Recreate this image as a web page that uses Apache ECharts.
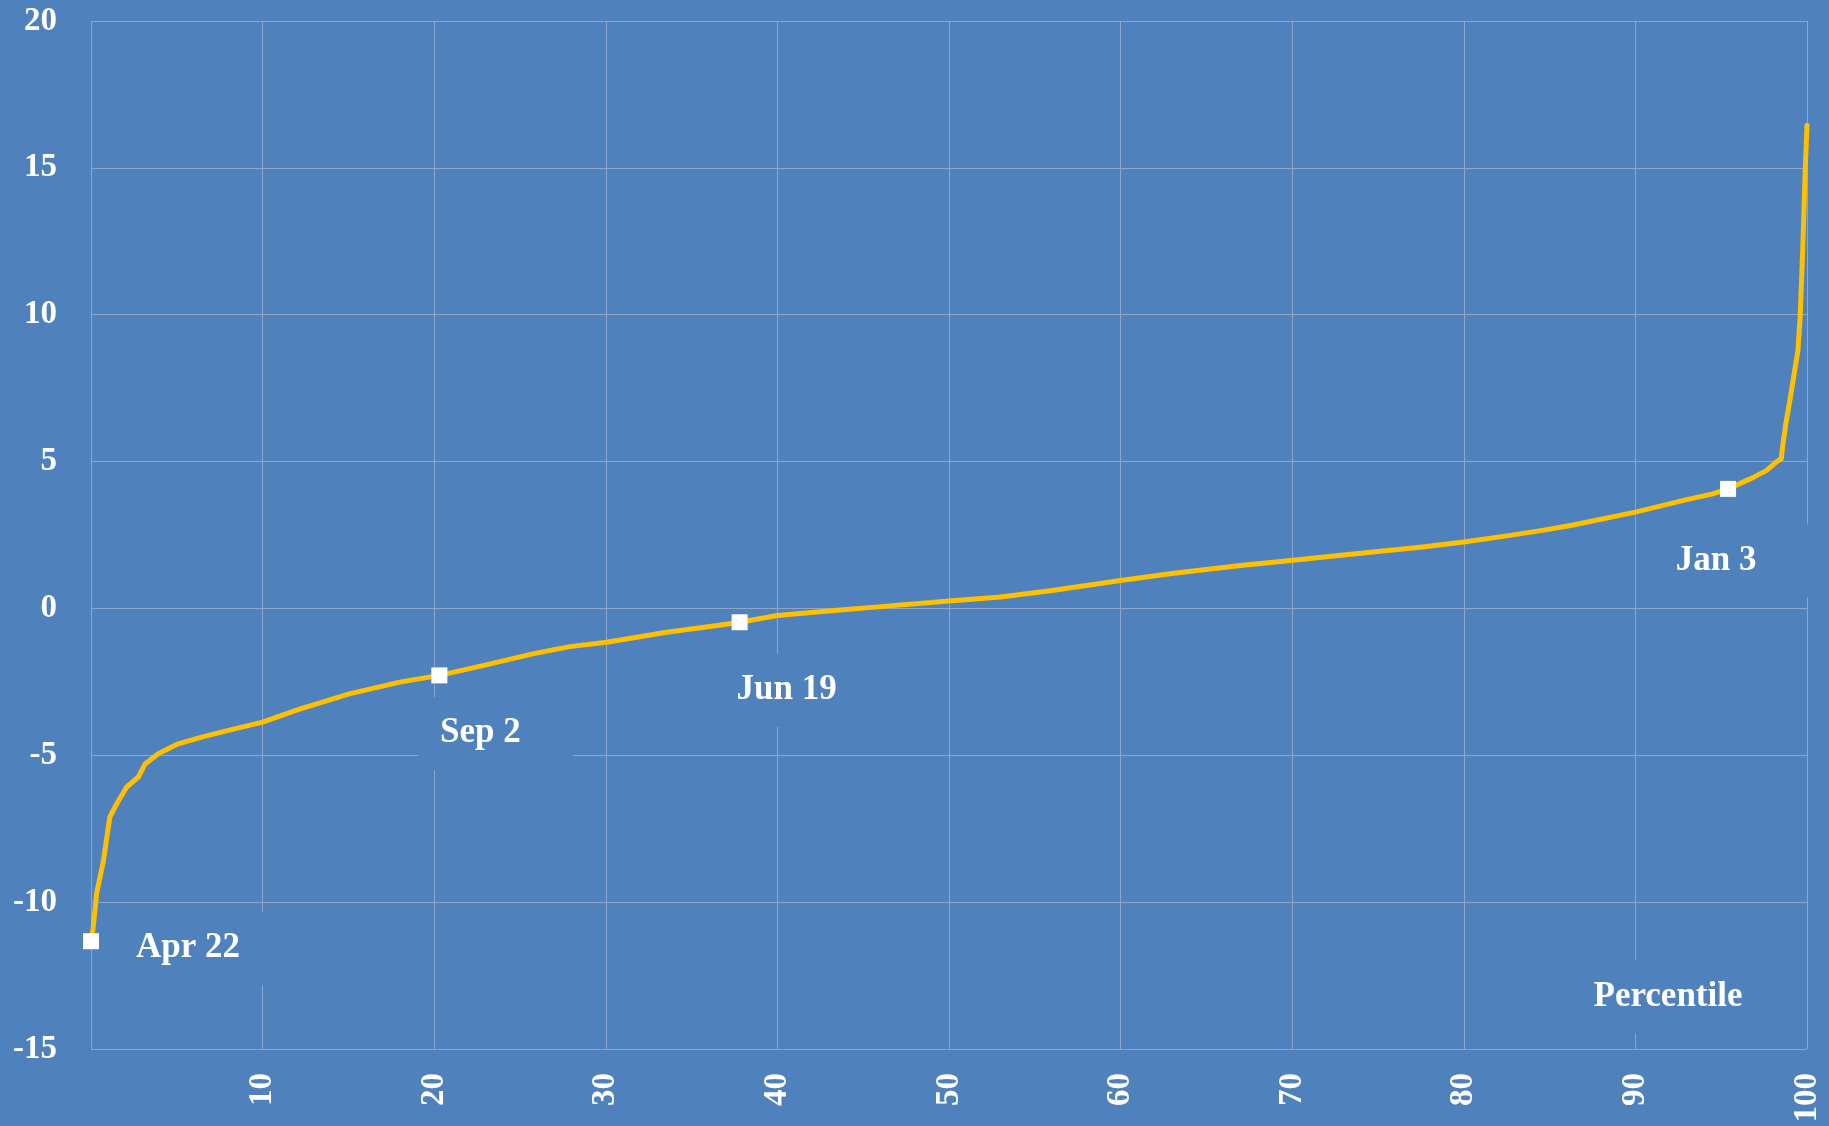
<!DOCTYPE html>
<html>
<head>
<meta charset="utf-8">
<script src="https://cdn.jsdelivr.net/npm/echarts@6/dist/echarts.min.js"></script>
<style>
html,body{margin:0;padding:0;background:#4F81BD;}
#chart{width:1829px;height:1126px;}
</style>
</head>
<body>
<div id="chart"></div>
<script>
// Percentile (x) and value (y)
var percentiles = [0, 0.12, 0.33, 0.72, 0.92, 1.1, 1.5, 2.08, 2.76, 3.15, 3.92, 5.08, 6.45, 8.0, 10.0, 12.2, 15.1, 18.0, 20.3, 22.9, 25.8, 27.9, 30.05, 33.55, 36.5, 37.8, 40.0, 43.3, 46.2, 50.0, 53.0, 55.9, 60.0, 63.1, 67.0, 69.9, 74.7, 77.6, 80.0, 82.5, 84.4, 86.3, 90.0, 92.8, 94.5, 95.4, 96.5, 96.9, 97.65, 98.2, 98.5, 98.6, 98.77, 99.0, 99.47, 99.6, 99.75, 99.9, 100];
var values = [-11.33, -10.9, -9.7, -8.6, -7.8, -7.1, -6.65, -6.08, -5.74, -5.3, -4.95, -4.61, -4.38, -4.15, -3.87, -3.42, -2.9, -2.51, -2.28, -1.94, -1.54, -1.3, -1.15, -0.81, -0.58, -0.47, -0.24, -0.07, 0.07, 0.25, 0.39, 0.6, 0.95, 1.2, 1.46, 1.63, 1.92, 2.09, 2.26, 2.47, 2.64, 2.83, 3.28, 3.68, 3.9, 4.07, 4.36, 4.47, 4.7, 4.98, 5.1, 5.6, 6.3, 7.08, 8.78, 9.92, 12.2, 15.0, 16.45];

// Highlighted days
var markerNames = ['Apr 22', 'Sep 2', 'Jun 19', 'Jan 3'];
var markerPercentiles = [0, 20.3, 37.8, 95.4];
var markerValues = [-11.33, -2.28, -0.47, 4.07];
var markerLabelOffsets = [[97, 7], [41, 58], [47, 68], [-12, 72]];

var xTicks = [0, 10, 20, 30, 40, 50, 60, 70, 80, 90, 100];
var yTicks = [-15, -10, -5, 0, 5, 10, 15, 20];

var BG = '#4F81BD';
var FONT = '"Liberation Serif", "DejaVu Serif", serif';
var GRID = '#8FA6C9';

var lineData = percentiles.map(function (p, i) { return [p, values[i]]; });
var PADL = 22, PADR = 52;
var markerData = markerPercentiles.map(function (p, i) {
  return {
    value: [p, markerValues[i]],
    name: markerNames[i],
    label: { offset: [markerLabelOffsets[i][0] + (PADR - PADL) / 2, markerLabelOffsets[i][1]] }
  };
});

var chart = echarts.init(document.getElementById('chart'));
chart.setOption({
  backgroundColor: BG,
  animation: false,
  grid: { left: 91, right: 22, top: 21, bottom: 77, containLabel: false },
  xAxis: {
    type: 'value', min: xTicks[0], max: xTicks[xTicks.length - 1], interval: 10,
    axisLine: { show: false }, axisTick: { show: false },
    splitLine: { show: true, lineStyle: { color: GRID, width: 1 } },
    axisLabel: {
      showMinLabel: false, rotate: 90, margin: 24,
      color: '#ffffff', fontFamily: FONT, fontWeight: 'bold', fontSize: 33
    }
  },
  yAxis: {
    type: 'value', min: yTicks[0], max: yTicks[yTicks.length - 1], interval: 5,
    axisLine: { show: false }, axisTick: { show: false },
    splitLine: { show: true, lineStyle: { color: GRID, width: 1 } },
    axisLabel: { margin: 34, color: '#ffffff', fontFamily: FONT, fontWeight: 'bold', fontSize: 33 }
  },
  series: [
    {
      type: 'line', data: lineData, showSymbol: false, smooth: false,
      lineStyle: { color: '#FFC000', width: 5, join: 'round', cap: 'round' }, z: 2
    },
    {
      type: 'scatter', data: markerData, symbol: 'rect', symbolSize: 16,
      itemStyle: { color: '#ffffff', opacity: 1 }, z: 3,
      emphasis: { disabled: true },
      label: {
        show: true, position: 'inside', formatter: '{b}',
        align: 'center', verticalAlign: 'middle',
        color: '#ffffff', fontFamily: FONT, fontWeight: 'bold', fontSize: 35,
        backgroundColor: BG, padding: [19, PADR, 19, PADL]
      }
    }
  ],
  graphic: [{
    type: 'text', x: 1668, y: 997, z: 100,
    style: {
      text: 'Percentile', align: 'center', verticalAlign: 'middle',
      fill: '#ffffff', font: 'bold 35px ' + FONT,
      backgroundColor: BG, padding: [19, 24]
    }
  }]
});
</script>
</body>
</html>
